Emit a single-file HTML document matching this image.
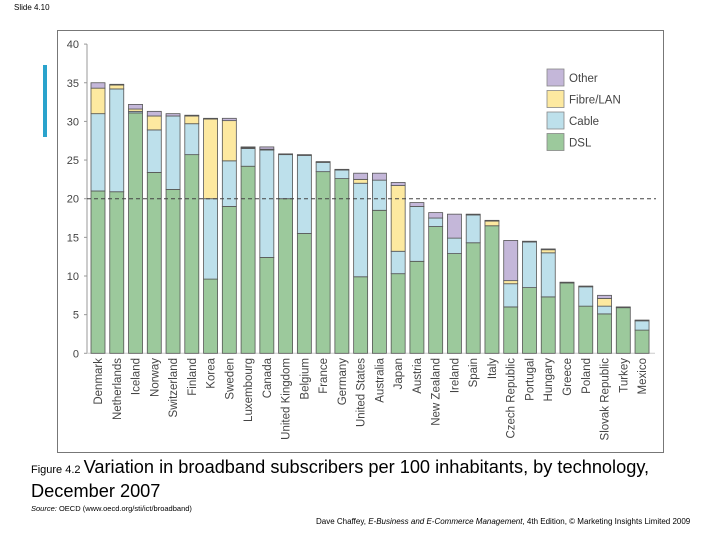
<!DOCTYPE html>
<html><head><meta charset="utf-8">
<style>
body{margin:0;width:720px;height:540px;background:#fff;font-family:"Liberation Sans",sans-serif;overflow:hidden;position:relative}
.t{position:absolute;white-space:nowrap;color:#000}
</style></head>
<body>
<div class="t" style="left:14px;top:3px;font-size:8px">Slide 4.10</div>
<div style="position:absolute;left:43px;top:65px;width:4px;height:72px;background:#2aa3cc"></div>
<svg width="720" height="540" style="position:absolute;left:0;top:0">
<rect x="57.5" y="30.5" width="606" height="422" fill="none" stroke="#777"/>
<g id="g"></g>
</svg>
<div class="t" style="left:31px;top:457px;font-size:18.2px;line-height:21px"><span style="font-size:11px">Figure 4.2 </span> Variation in broadband subscribers per 100 inhabitants, by technology,<br>December 2007</div>
<div class="t" style="left:31px;top:504px;font-size:7.5px"><i>Source:</i> OECD (www.oecd.org/sti/ict/broadband)</div>
<div class="t" style="left:316px;top:517px;font-size:8px">Dave Chaffey, <i>E-Business and E-Commerce Management</i>, 4th Edition, © Marketing Insights Limited 2009</div>
<script>
const countries=["Denmark","Netherlands","Iceland","Norway","Switzerland","Finland","Korea","Sweden","Luxembourg","Canada","United Kingdom","Belgium","France","Germany","United States","Australia","Japan","Austria","New Zealand","Ireland","Spain","Italy","Czech Republic","Portugal","Hungary","Greece","Poland","Slovak Republic","Turkey","Mexico"];
const dsl=[21.0,20.9,31.1,23.4,21.2,25.7,9.6,19.0,24.2,12.4,20.0,15.5,23.5,22.6,9.9,18.5,10.3,11.9,16.4,12.9,14.3,16.5,6.0,8.5,7.3,9.1,6.1,5.1,5.9,3.0];
const cable=[10.0,13.3,0.2,5.5,9.5,4.0,10.4,5.9,2.3,13.9,5.7,10.1,1.2,1.1,12.1,3.9,2.9,7.1,1.1,2.0,3.6,0,3.0,5.9,5.7,0,2.5,1.0,0,1.2];
const fibre=[3.3,0.5,0.3,1.8,0,1.0,10.3,5.2,0.1,0.1,0,0,0,0,0.5,0,8.5,0,0,0,0,0.6,0.4,0,0.4,0,0,1.0,0,0];
const other=[0.7,0.1,0.6,0.6,0.3,0.1,0.1,0.3,0.1,0.3,0.1,0.1,0.1,0.1,0.8,0.9,0.4,0.5,0.7,3.1,0.1,0.1,5.2,0.1,0.1,0.1,0.1,0.4,0.1,0.1];
const yTicks=[0,5,10,15,20,25,30,35,40];
const seriesNames=["Other","Fibre/LAN","Cable","DSL"];
const colors={DSL:"#9cc99c",Cable:"#bde0eb",Fibre:"#fde9a0",Other:"#c4b7d9"};
const NS="http://www.w3.org/2000/svg";
const g=document.getElementById('g');
const y0=353.3,pu=7.73;
const Y=v=>y0-v*pu;
const X=i=>91+i*18.76;
const bw=14;
function el(t,a){const e=document.createElementNS(NS,t);for(const k in a)e.setAttribute(k,a[k]);g.appendChild(e);return e;}
const ax=el('line',{x1:87,y1:Y(40),x2:87,y2:y0,stroke:'#999'});


yTicks.forEach(v=>{
 const tk=el('line',{x1:84,y1:Y(v),x2:87,y2:Y(v),stroke:'#999'});
 
 
 const t=el('text',{x:79,y:Y(v)+4,'text-anchor':'end','font-size':11,fill:'#444','font-family':'Liberation Sans'});
 t.textContent=v;
 
 
});
const bl=el('line',{x1:87,y1:y0,x2:655,y2:y0,stroke:'#ccc'});


countries.forEach((c,i)=>{
 const segs=[[dsl[i],colors.DSL,'dsl'],[cable[i],colors.Cable,'cable'],[fibre[i],colors.Fibre,'fibre'],[other[i],colors.Other,'other']];
 let base=0;
 segs.forEach(s=>{
  if(s[0]<=0)return;
  const r=el('rect',{x:X(i),y:Y(base+s[0]),width:bw,height:s[0]*pu,fill:s[1],stroke:'#555','stroke-width':0.8});
  
  
  base+=s[0];
 });
 const t=el('text',{transform:`translate(${X(i)+bw/2+4},358) rotate(-90)`,'text-anchor':'end','font-size':11.5,fill:'#444','font-family':'Liberation Sans'});
 t.textContent=c;
 
 
});
const dl=el('line',{x1:87,y1:Y(20),x2:656,y2:Y(20),stroke:'#444','stroke-dasharray':'4,3'});


const lc=[colors.Other,colors.Fibre,colors.Cable,colors.DSL];
seriesNames.forEach((n,k)=>{
 const r=el('rect',{x:547,y:69+k*21.5,width:17,height:17,fill:lc[k],stroke:'#888','stroke-width':0.8});
 
 
 const t=el('text',{x:569,y:82+k*21.5,'font-size':11.5,fill:'#444','font-family':'Liberation Sans'});
 t.textContent=n;
 
 
});
</script>
</body></html>
